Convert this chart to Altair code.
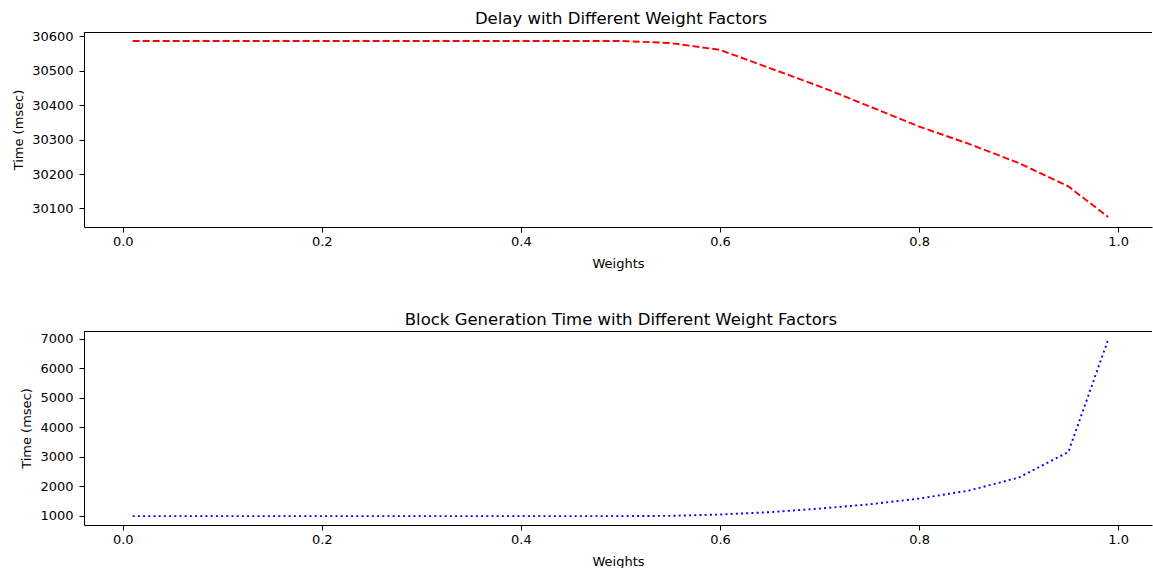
import altair as alt
import pandas as pd

weights = [0.01, 0.05, 0.10, 0.15, 0.20, 0.25, 0.30, 0.35, 0.40, 0.45, 0.50,
           0.55, 0.60, 0.65, 0.70, 0.75, 0.80, 0.85, 0.90, 0.95, 0.99]
delay_ms = [30587, 30587, 30587, 30587, 30587, 30587, 30587, 30587, 30587, 30587, 30587,
            30581, 30561, 30508, 30455, 30397, 30338, 30288, 30232, 30164, 30075]
block_ms = [985, 985, 985, 985, 985, 985, 985, 985, 985, 985, 985,
            995, 1040, 1120, 1240, 1385, 1580, 1850, 2290, 3160, 6970]
x_ticks = [0.0, 0.2, 0.4, 0.6, 0.8, 1.0]
delay_ticks = [30100, 30200, 30300, 30400, 30500, 30600]
block_ticks = [1000, 2000, 3000, 4000, 5000, 6000, 7000]

df = pd.DataFrame({"w": weights, "delay": delay_ms, "block": block_ms})

W = 1068
H1 = 195
H2 = 194
FONT = "DejaVu Sans"

xscale = alt.Scale(domain=[-0.0389, 1.034], nice=False, zero=False)
xaxis = alt.Axis(values=x_ticks, format=".1f", title="Weights")


def panel(field, color, dash, ydomain, yticks, title, h):
    line = alt.Chart(df).mark_line(color=color, strokeDash=dash, strokeWidth=1.9, clip=True).encode(
        x=alt.X("w:Q", scale=xscale, axis=xaxis),
        y=alt.Y(f"{field}:Q", scale=alt.Scale(domain=ydomain, nice=False, zero=False),
                axis=alt.Axis(values=yticks, format="d", title="Time (msec)")),
    )
    top = alt.Chart(df).mark_rule(color="black", strokeWidth=1).encode(
        x=alt.value(0), x2=alt.value(W), y=alt.value(0.5)
    )
    return alt.layer(line, top).properties(
        width=W, height=h,
        title=alt.TitleParams(title, fontSize=16.5, font=FONT, fontWeight="normal",
                              color="black", baseline="alphabetic", offset=-10,
                              anchor="middle", dx=3),
    )


p1 = panel("delay", "#ff0000", [7, 3], [30046, 30613], delay_ticks,
           "Delay with Different Weight Factors", H1)
p2 = panel("block", "#0000ff", [2, 3.2], [685, 7257], block_ticks,
           "Block Generation Time with Different Weight Factors", H2)

chart = alt.vconcat(p1, p2, spacing=41).properties(
    padding={"left": 12, "top": 10, "right": 0, "bottom": 0}
).configure_view(stroke=None).configure_axis(
    grid=False, domainColor="black", domainWidth=1, tickColor="black", tickWidth=1,
    tickSize=5, labelColor="black", titleColor="black", labelFont=FONT, titleFont=FONT,
    labelFontSize=13, titleFontSize=13, titleFontWeight="normal",
).configure_axisX(labelPadding=3, titlePadding=9).configure_axisY(labelPadding=6, titlePadding=6)

chart.save("out.html", embed_options={"renderer": "svg", "actions": False})
